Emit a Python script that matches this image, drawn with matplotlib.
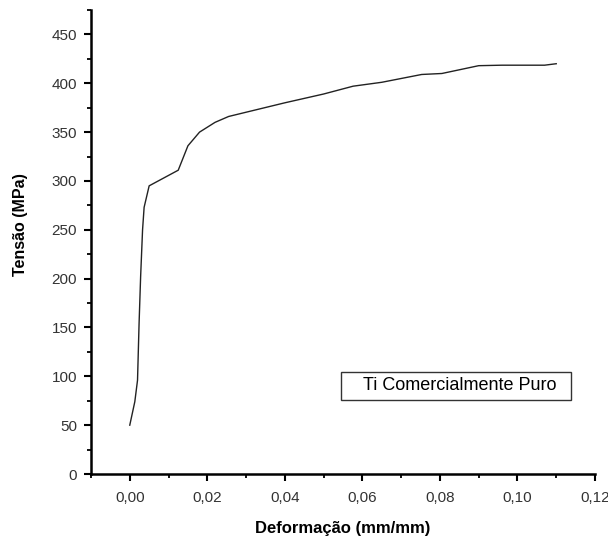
import matplotlib
matplotlib.use("Agg")
import matplotlib.pyplot as plt
from matplotlib.ticker import MultipleLocator, FuncFormatter
from matplotlib.patches import Rectangle

strain = [0.0, 0.0013, 0.002, 0.0024, 0.0028, 0.0033, 0.0037, 0.005, 0.0125,
          0.015, 0.018, 0.022, 0.0255, 0.0286, 0.04, 0.05, 0.0576, 0.065,
          0.0753, 0.0805, 0.09, 0.096, 0.107, 0.11]
stress = [50, 74, 96, 154, 202, 250, 273, 295, 311,
          336, 350, 360, 366, 369, 380, 389, 397, 401,
          409, 410, 418, 418.5, 418.5, 420]
series_label = "Ti Comercialmente Puro"
x_label = "Deformação (mm/mm)"
y_label = "Tensão (MPa)"

plt.rcParams['font.family'] = ['Liberation Sans', 'DejaVu Sans']

fig = plt.figure(figsize=(6.08, 5.42), dpi=100)
ax = fig.add_axes([91/608, 1-474/542, (595-91)/608, (474-10)/542])
ax.plot(strain, stress, color='#222222', lw=1.0)

ax.set_xlim(-0.01, 0.12)
ax.set_ylim(0, 475)
ax.spines['top'].set_visible(False)
ax.spines['right'].set_visible(False)
for s in ('left', 'bottom'):
    ax.spines[s].set_linewidth(1.8)

ax.xaxis.set_major_locator(MultipleLocator(0.02))
ax.xaxis.set_minor_locator(MultipleLocator(0.01))
ax.yaxis.set_major_locator(MultipleLocator(50))
ax.yaxis.set_minor_locator(MultipleLocator(25))
ax.xaxis.set_major_formatter(FuncFormatter(lambda v, p: f"{v:.2f}".replace('.', ',').replace('-', '')))
ax.tick_params(which='major', direction='out', length=5, width=1.5, labelsize=11, colors='black', labelcolor='#333333')
ax.tick_params(which='minor', direction='out', length=3, width=1.3)
ax.tick_params(axis='x', pad=7)
ax.tick_params(axis='y', pad=5)

ax.set_xlabel(x_label, fontsize=12, fontweight='bold', va='center')
ax.set_ylabel(y_label, fontsize=11.5, fontweight='bold', va='center')
ax.xaxis.set_label_coords((342.5 - 91) / 504, -(529 - 474) / 464)
ax.yaxis.set_label_coords((21 - 91) / 504, (474 - 225) / 464)

# legend-like box
bx0 = (341 - 91) / (595 - 91)
by0 = (474 - 400) / (474 - 10)
bw = (571 - 341) / (595 - 91)
bh = (400 - 372) / (474 - 10)
ax.add_patch(Rectangle((bx0, by0), bw, bh, transform=ax.transAxes,
                       facecolor='white', edgecolor='#333333', lw=1.0))
ax.text((363 - 91) / (595 - 91), by0 + bh / 2, series_label, transform=ax.transAxes,
        ha='left', va='center', fontsize=13, color='black')

fig.savefig("out.png", dpi=100)
